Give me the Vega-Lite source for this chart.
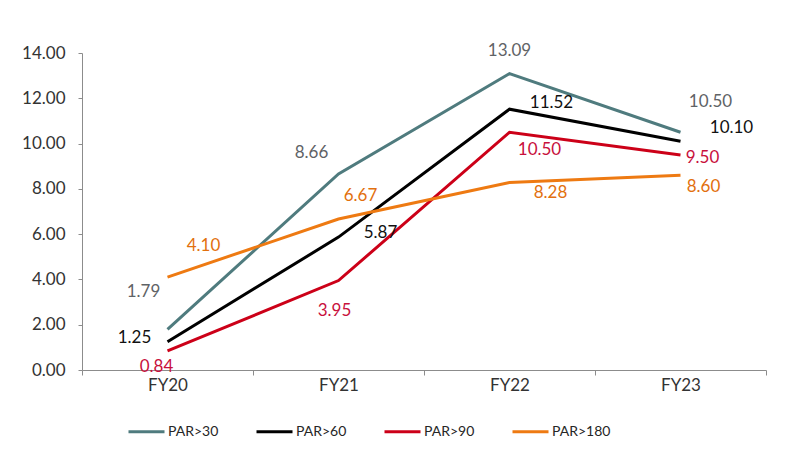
{
  "$schema": "https://vega.github.io/schema/vega-lite/v6.json",
  "width": 684,
  "height": 317,
  "autosize": {"type": "none"},
  "padding": {"left": 82, "top": 53, "right": 42, "bottom": 94},
  "background": "white",
  "config": {
    "view": {"stroke": null},
    "font": "Lato",
    "text": {"font": "Lato", "fontSize": 17}
  },
  "data": {
    "values": [
      {"fy": "FY20", "s": "PAR>30", "v": 1.79},
      {"fy": "FY21", "s": "PAR>30", "v": 8.66},
      {"fy": "FY22", "s": "PAR>30", "v": 13.09},
      {"fy": "FY23", "s": "PAR>30", "v": 10.50},
      {"fy": "FY20", "s": "PAR>60", "v": 1.25},
      {"fy": "FY21", "s": "PAR>60", "v": 5.87},
      {"fy": "FY22", "s": "PAR>60", "v": 11.52},
      {"fy": "FY23", "s": "PAR>60", "v": 10.10},
      {"fy": "FY20", "s": "PAR>90", "v": 0.84},
      {"fy": "FY21", "s": "PAR>90", "v": 3.95},
      {"fy": "FY22", "s": "PAR>90", "v": 10.50},
      {"fy": "FY23", "s": "PAR>90", "v": 9.50},
      {"fy": "FY20", "s": "PAR>180", "v": 4.10},
      {"fy": "FY21", "s": "PAR>180", "v": 6.67},
      {"fy": "FY22", "s": "PAR>180", "v": 8.28},
      {"fy": "FY23", "s": "PAR>180", "v": 8.60}
    ]
  },
  "encoding": {
    "x": {
      "field": "fy", "type": "nominal",
      "scale": {"type": "band", "paddingInner": 0, "paddingOuter": 0},
      "axis": {
        "title": null, "labelAngle": 0, "tickBand": "extent",
        "domainColor": "#8c8c8c", "tickColor": "#8c8c8c", "tickSize": 5,
        "labelPadding": 2, "labelFontSize": 17, "labelColor": "#333333", "labelFont": "Lato"
      }
    },
    "y": {
      "field": "v", "type": "quantitative",
      "scale": {"domain": [0, 14], "nice": false},
      "axis": {
        "title": null, "values": [0, 2, 4, 6, 8, 10, 12, 14], "format": ".2f", "grid": false,
        "domainColor": "#8c8c8c", "tickColor": "#8c8c8c", "tickSize": 4,
        "labelPadding": 13, "labelFontSize": 17, "labelColor": "#333333", "labelFont": "Lato"
      }
    }
  },
  "layer": [
    {
      "mark": {"type": "line", "strokeWidth": 3},
      "encoding": {
        "color": {
          "field": "s", "type": "nominal",
          "scale": {"domain": ["PAR>30", "PAR>60", "PAR>90", "PAR>180"], "range": ["#4f7b7e", "#000000", "#cc0018", "#ee7a12"]},
          "legend": {
            "title": null, "orient": "none", "legendX": 45, "legendY": 359,
            "direction": "horizontal", "columns": 4, "gridAlign": "all",
            "symbolType": "stroke", "symbolSize": 1296, "symbolStrokeWidth": 3,
            "labelFontSize": 14, "labelFont": "Lato", "labelColor": "#262626",
            "labelOffset": 2, "columnPadding": 23
          }
        },
        "order": {"field": "fy"}
      }
    },
    {"transform": [{"filter": "datum.s=='PAR>30' && datum.fy=='FY20'"}], "mark": {"type": "text", "color": "#5f6366", "dx": -24, "dy": -37}, "encoding": {"text": {"field": "v", "format": ".2f"}}},
    {"transform": [{"filter": "datum.s=='PAR>30' && datum.fy=='FY21'"}], "mark": {"type": "text", "color": "#5f6366", "dx": -27, "dy": -21}, "encoding": {"text": {"field": "v", "format": ".2f"}}},
    {"transform": [{"filter": "datum.s=='PAR>30' && datum.fy=='FY22'"}], "mark": {"type": "text", "color": "#5f6366", "dx": 0, "dy": -23}, "encoding": {"text": {"field": "v", "format": ".2f"}}},
    {"transform": [{"filter": "datum.s=='PAR>30' && datum.fy=='FY23'"}], "mark": {"type": "text", "color": "#5f6366", "dx": 30, "dy": -30}, "encoding": {"text": {"field": "v", "format": ".2f"}}},
    {"transform": [{"filter": "datum.s=='PAR>60' && datum.fy=='FY20'"}], "mark": {"type": "text", "color": "#111111", "dx": -33, "dy": -4}, "encoding": {"text": {"field": "v", "format": ".2f"}}},
    {"transform": [{"filter": "datum.s=='PAR>60' && datum.fy=='FY21'"}], "mark": {"type": "text", "color": "#111111", "dx": 42, "dy": -4}, "encoding": {"text": {"field": "v", "format": ".2f"}}},
    {"transform": [{"filter": "datum.s=='PAR>60' && datum.fy=='FY22'"}], "mark": {"type": "text", "color": "#111111", "dx": 42, "dy": -6}, "encoding": {"text": {"field": "v", "format": ".2f"}}},
    {"transform": [{"filter": "datum.s=='PAR>60' && datum.fy=='FY23'"}], "mark": {"type": "text", "color": "#111111", "dx": 51, "dy": -13}, "encoding": {"text": {"field": "v", "format": ".2f"}}},
    {"transform": [{"filter": "datum.s=='PAR>90' && datum.fy=='FY20'"}], "mark": {"type": "text", "color": "#c8103c", "dx": -11, "dy": 16}, "encoding": {"text": {"field": "v", "format": ".2f"}}},
    {"transform": [{"filter": "datum.s=='PAR>90' && datum.fy=='FY21'"}], "mark": {"type": "text", "color": "#c8103c", "dx": -4, "dy": 30}, "encoding": {"text": {"field": "v", "format": ".2f"}}},
    {"transform": [{"filter": "datum.s=='PAR>90' && datum.fy=='FY22'"}], "mark": {"type": "text", "color": "#c8103c", "dx": 30, "dy": 18}, "encoding": {"text": {"field": "v", "format": ".2f"}}},
    {"transform": [{"filter": "datum.s=='PAR>90' && datum.fy=='FY23'"}], "mark": {"type": "text", "color": "#c8103c", "dx": 22, "dy": 3}, "encoding": {"text": {"field": "v", "format": ".2f"}}},
    {"transform": [{"filter": "datum.s=='PAR>180' && datum.fy=='FY20'"}], "mark": {"type": "text", "color": "#e2700e", "dx": 36, "dy": -31}, "encoding": {"text": {"field": "v", "format": ".2f"}}},
    {"transform": [{"filter": "datum.s=='PAR>180' && datum.fy=='FY21'"}], "mark": {"type": "text", "color": "#e2700e", "dx": 22, "dy": -23}, "encoding": {"text": {"field": "v", "format": ".2f"}}},
    {"transform": [{"filter": "datum.s=='PAR>180' && datum.fy=='FY22'"}], "mark": {"type": "text", "color": "#e2700e", "dx": 41, "dy": 10}, "encoding": {"text": {"field": "v", "format": ".2f"}}},
    {"transform": [{"filter": "datum.s=='PAR>180' && datum.fy=='FY23'"}], "mark": {"type": "text", "color": "#e2700e", "dx": 23, "dy": 12}, "encoding": {"text": {"field": "v", "format": ".2f"}}}
  ]
}
